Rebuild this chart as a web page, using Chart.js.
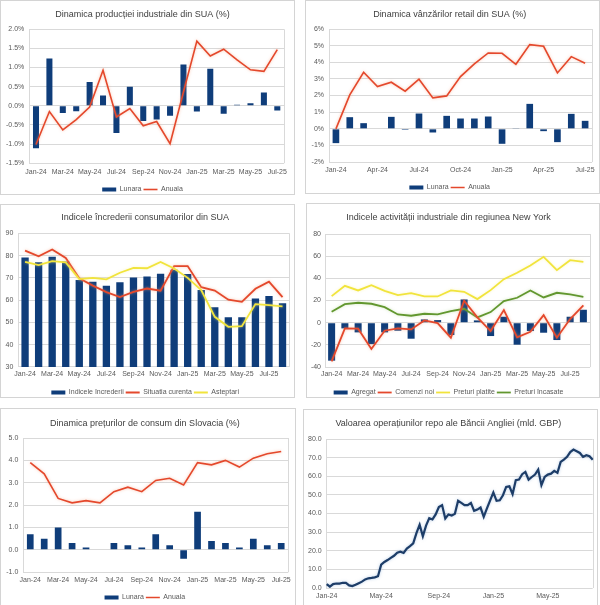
<!DOCTYPE html>
<html>
<head>
<meta charset="utf-8">
<script src="https://cdn.jsdelivr.net/npm/chart.js@4.4.1/dist/chart.umd.min.js"></script>
<style>
  body { margin: 0; background: #fff; width: 600px; height: 605px; overflow: hidden; position: relative; }
  .panel { position: absolute; border: 1px solid #d4d4d4; box-sizing: border-box; overflow: hidden; background: #fff; }
  .panel canvas { display: block; }
</style>
</head>
<body>
<div class="panel" style="left:0;top:0;width:295px;height:195px"><canvas id="c1"></canvas></div>
<div class="panel" style="left:305px;top:0;width:295px;height:194px"><canvas id="c2"></canvas></div>
<div class="panel" style="left:0;top:204px;width:295px;height:194px"><canvas id="c3"></canvas></div>
<div class="panel" style="left:306px;top:203px;width:294px;height:195px"><canvas id="c4"></canvas></div>
<div class="panel" style="left:0;top:408px;width:296px;height:200px"><canvas id="c5"></canvas></div>
<div class="panel" style="left:303px;top:409px;width:295px;height:200px"><canvas id="c6"></canvas></div>
<script>
// --- data ---
const months19 = ['Jan-24','Feb-24','Mar-24','Apr-24','May-24','Jun-24','Jul-24','Aug-24','Sep-24','Oct-24','Nov-24','Dec-24',
                  'Jan-25','Feb-25','Mar-25','Apr-25','May-25','Jun-25','Jul-25'];
const months20 = months19.concat(['Aug-25']);
const ticksEvery2 = ['Jan-24','Mar-24','May-24','Jul-24','Sep-24','Nov-24','Jan-25','Mar-25','May-25','Jul-25'];
const ticksEvery3 = ['Jan-24','Apr-24','Jul-24','Oct-24','Jan-25','Apr-25','Jul-25'];

// industrial production USA (%)
const ipMonthly = [-1.11, 1.24, -0.19, -0.14, 0.62, 0.27, -0.71, 0.50, -0.40, -0.36, -0.26, 1.08, -0.15, 0.97, -0.21, 0.03, 0.07, 0.35, -0.12];
const ipAnnual  = [-1.01, -0.15, -0.63, -0.36, -0.03, 0.93, -0.29, -0.07, -0.52, -0.41, -0.99, 0.36, 1.69, 1.30, 1.48, 1.20, 0.94, 0.90, 1.47];

// retail sales USA (%)
const retailMonthly = [-0.86, 0.70, 0.34, 0.00, 0.72, -0.06, 0.92, -0.22, 0.78, 0.62, 0.62, 0.74, -0.90, 0.02, 1.50, -0.14, -0.80, 0.90, 0.48];
const retailAnnual  = [0.00, 2.04, 3.40, 2.54, 2.80, 2.26, 2.98, 1.86, 1.98, 3.14, 3.90, 4.56, 4.54, 3.88, 5.06, 4.96, 3.36, 4.34, 3.94];

// consumer confidence USA
const confIndex   = [79.1, 77.0, 79.5, 77.3, 69.0, 68.2, 66.4, 68.0, 70.2, 70.6, 71.8, 73.6, 71.7, 64.5, 56.8, 52.3, 52.3, 60.7, 61.8, 58.6];
const confCurrent = [82.2, 79.7, 82.7, 78.9, 69.8, 66.5, 63.6, 61.4, 63.7, 65.2, 64.2, 75.3, 75.3, 65.8, 64.3, 60.2, 59.2, 65.1, 68.3, 61.3];
const confExpect  = [77.2, 75.7, 77.5, 76.9, 69.4, 70.0, 69.3, 72.3, 74.5, 74.3, 77.1, 74.2, 70.0, 64.5, 52.5, 48.0, 48.3, 58.2, 57.7, 57.2];

// Empire State manufacturing survey
const nyAggregate = [-34.2, -5.1, -8.7, -19.2, -8.7, -7.2, -14.4, 3.0, 2.4, -11.1, 21.0, 2.1, -12.0, 5.4, -19.8, -7.5, -9.0, -15.6, 5.4, 11.7];
const nyNewOrders = [-34.8, -5.1, -5.4, -23.7, -7.2, -5.1, -6.0, 2.1, -0.3, -13.5, 19.8, 4.8, -7.5, 11.4, -13.2, -8.1, 6.9, -13.5, 3.3, 15.6];
const nyPricesPaid = [24.0, 33.3, 29.1, 33.9, 28.8, 24.9, 26.7, 23.7, 23.7, 29.1, 27.9, 21.3, 29.4, 39.3, 45.0, 51.6, 59.4, 47.4, 56.4, 54.9];
const nyPricesRecv = [9.9, 16.8, 18.0, 17.1, 14.1, 7.5, 6.3, 8.1, 7.5, 10.5, 12.6, 4.8, 9.6, 19.5, 22.5, 29.1, 22.8, 27.0, 25.5, 23.4];

// CPI Slovakia (%)
const skMonthly = [0.7, 0.5, 1.0, 0.3, 0.1, 0.0, 0.3, 0.2, 0.1, 0.7, 0.2, -0.4, 1.7, 0.4, 0.3, 0.1, 0.5, 0.2, 0.3];
const skAnnual  = [3.9, 3.4, 2.3, 2.1, 2.2, 2.1, 2.6, 2.8, 2.6, 3.1, 3.2, 2.9, 3.9, 3.8, 4.0, 3.7, 4.1, 4.3, 4.4];

// Bank of England repo operations, weekly (bn GBP)
const repoValues = [2.1, 0.7, 2.1, 2.4, 2.4, 2.8, 2.8, 1.4, 1.0, 1.7, 2.6, 3.4, 4.6, 5.2, 5.4, 5.7, 6.3, 12.5, 14.0, 15.0,
                    16.2, 17.3, 19.0, 19.5, 18.8, 21.2, 22.5, 24.0, 29.5, 34.0, 27.8, 33.5, 37.5, 36.8, 39.5, 43.5, 44.5, 37.3, 39.5, 38.9,
                    39.8, 46.8, 45.7, 44.5, 44.5, 45.7, 41.4, 42.1, 43.2, 38.2, 42.7, 47.1, 51.3, 46.8, 47.1, 49.8, 54.3, 54.6, 50.4, 57.9,
                    58.2, 61.1, 62.3, 58.2, 59.6, 60.9, 63.6, 55.2, 59.6, 60.9, 61.4, 62.9, 61.8, 67.7, 68.9, 70.4, 73.0, 74.3, 73.4, 72.5,
                    70.4, 71.3, 70.7, 68.9];
const repoTickIdx  = [0, 17, 35, 52, 69];
const repoTickText = ['Jan-24', 'May-24', 'Sep-24', 'Jan-25', 'May-25'];

// --- style ---
const FONT = "'Liberation Sans', Arial, sans-serif";
const NAVY = '#0f3d7a';
const RED = '#e4482c';
const YELLOW = '#f1e43c';
const GREEN = '#62972f';
const GRID = '#d9d9d9';
const TXT = '#595959';
const LEG_PAD = 2;

Chart.defaults.font.family = FONT;
Chart.defaults.animation = false;

// right edge of the plot area, like the Excel frame
const plotFrame = {
  id: 'plotFrame',
  beforeDatasetsDraw(chart) {
    const { ctx, chartArea: a } = chart;
    const x = Math.round(a.right) + 0.5;
    ctx.save();
    ctx.strokeStyle = GRID;
    ctx.lineWidth = 1;
    ctx.beginPath();
    ctx.moveTo(x, a.top);
    ctx.lineTo(x, a.bottom);
    ctx.stroke();
    ctx.restore();
  }
};

// soft halo round the lines (Excel glow)
const lineGlow = {
  id: 'lineGlow',
  beforeDatasetDraw(chart, args) {
    const ds = chart.data.datasets[args.index];
    if (ds.type !== 'line' && chart.config.type !== 'line') return;
    const ctx = chart.ctx;
    ctx.save();
    ctx.shadowColor = ds.glow || 'rgba(255,255,255,0)';
    ctx.shadowBlur = 3;
  },
  afterDatasetDraw(chart, args) {
    const ds = chart.data.datasets[args.index];
    if (ds.type !== 'line' && chart.config.type !== 'line') return;
    chart.ctx.restore();
  }
};

function barSet(label, data, pct) {
  return { type: 'bar', label, data, backgroundColor: NAVY, borderWidth: 0, pointStyle: 'rect',
           categoryPercentage: 1, barPercentage: pct, order: 10 };
}
function lineSet(label, data, color, order, width, glow) {
  return { type: 'line', label, data, borderColor: color, backgroundColor: color, borderWidth: width || 1.6,
           pointRadius: 0, pointHoverRadius: 0, pointBorderWidth: width || 1.6, pointStyle: 'line',
           tension: 0, order, glow };
}

function makeChart(id, g, title, labels, datasets, yOpt, xCallback, type) {
  const canvas = document.getElementById(id);
  const xh = g.legend ? g.Lc - g.B - LEG_PAD - 3.5 : 20;
  canvas.width = g.W;
  canvas.height = Math.round(g.B + xh + (g.legend ? 7 + LEG_PAD + 10 : 0));
  const tickFont = { size: 7, family: FONT };
  return new Chart(canvas, {
    type: type || 'bar',
    data: { labels, datasets },
    plugins: [plotFrame, lineGlow],
    options: {
      responsive: false,
      layout: { padding: { left: 0, right: g.W - g.R, top: 0, bottom: 0 } },
      plugins: {
        title: { display: true, text: title, color: '#404040', font: { size: 9, family: FONT, weight: 'normal' },
                 padding: { top: g.Tc - 5.4, bottom: g.T - g.Tc - 5.4 } },
        legend: { display: !!g.legend, position: 'bottom',
                  labels: { usePointStyle: true, pointStyleWidth: 14, boxHeight: 4, padding: LEG_PAD,
                            color: TXT, font: tickFont, sort: (a, b) => a.datasetIndex - b.datasetIndex } },
        tooltip: { enabled: false }
      },
      scales: {
        x: {
          grid: { display: false, drawTicks: false },
          border: { display: false },
          ticks: { autoSkip: false, maxRotation: 0, minRotation: 0, padding: g.Xc - g.B - 4.2,
                   color: TXT, font: tickFont, callback: xCallback },
          afterFit: s => { s.height = xh; }
        },
        y: {
          min: yOpt.min, max: yOpt.max,
          grid: { color: GRID, drawTicks: false },
          border: { display: true, color: GRID },
          ticks: { stepSize: yOpt.step, padding: g.yPad || 5, color: TXT, font: tickFont, callback: yOpt.fmt },
          afterFit: s => { s.width = g.L; }
        }
      }
    }
  });
}

function monthTicks(list) {
  return function (value) {
    const lab = this.getLabelForValue(value);
    return list.includes(lab) ? lab : '';
  };
}
const pct1 = v => v.toFixed(1) + '%';
const pct0 = v => v.toFixed(0) + '%';
const num0 = v => v.toFixed(0);
const num1 = v => v.toFixed(1);
const RED_GLOW = 'rgba(245,150,110,0.55)';

makeChart('c1', { W: 293, L: 28.3, R: 283, T: 28.3, B: 161.7, Xc: 171, Lc: 188, Tc: 13.3, legend: true },
  'Dinamica producției industriale din SUA (%)', months19,
  [barSet('Lunara', ipMonthly, 0.45), lineSet('Anuala', ipAnnual, RED, 1, 1.6, RED_GLOW)],
  { min: -1.5, max: 2.0, step: 0.5, fmt: pct1 }, monthTicks(ticksEvery2));

makeChart('c2', { W: 293, L: 23, R: 287.3, T: 28, B: 161.3, Xc: 169.7, Lc: 186.7, Tc: 13.3, legend: true },
  'Dinamica vânzărilor retail din SUA (%)', months19,
  [barSet('Lunara', retailMonthly, 0.48), lineSet('Anuala', retailAnnual, RED, 1, 1.6, RED_GLOW)],
  { min: -2, max: 6, step: 1, fmt: pct0 }, monthTicks(ticksEvery3));

makeChart('c3', { W: 293, L: 17.3, R: 288.3, T: 28.3, B: 161.7, Xc: 169.3, Lc: 187.3, Tc: 12.7, legend: true },
  'Indicele încrederii consumatorilor din SUA', months20,
  [barSet('Indicele încrederii', confIndex, 0.54), lineSet('Situatia curenta', confCurrent, RED, 2, 1.8, RED_GLOW),
   lineSet('Asteptari', confExpect, YELLOW, 1, 1.8, 'rgba(250,240,150,0.6)')],
  { min: 30, max: 90, step: 10, fmt: num0 }, monthTicks(ticksEvery2));

makeChart('c4', { W: 292, L: 18, R: 283, T: 30, B: 163.3, Xc: 170, Lc: 188.7, Tc: 13.7, legend: true, yPad: 4 },
  'Indicele activității industriale din regiunea New York', months20,
  [barSet('Agregat', nyAggregate, 0.53), lineSet('Comenzi noi', nyNewOrders, RED, 1, 1.8, RED_GLOW),
   lineSet('Preturi platite', nyPricesPaid, YELLOW, 2, 1.8, 'rgba(250,240,150,0.6)'),
   lineSet('Preturi încasate', nyPricesRecv, GREEN, 3, 1.8, 'rgba(170,210,130,0.5)')],
  { min: -40, max: 80, step: 20, fmt: num0 }, monthTicks(ticksEvery2));

makeChart('c5', { W: 294, L: 22.3, R: 287.7, T: 29, B: 163, Xc: 171.3, Lc: 188.3, Tc: 15, legend: true },
  'Dinamica prețurilor de consum din Slovacia (%)', months19,
  [barSet('Lunara', skMonthly, 0.48), lineSet('Anuala', skAnnual, RED, 1, 1.6, RED_GLOW)],
  { min: -1, max: 5, step: 1, fmt: num1 }, monthTicks(ticksEvery2));

makeChart('c6', { W: 293, L: 22.7, R: 288.7, T: 29, B: 178.3, Xc: 186.7, Tc: 14, legend: false },
  'Valoarea operațiunilor repo ale Băncii Angliei (mld. GBP)', repoValues.map((v, i) => i),
  [lineSet('Repo', repoValues, '#1d3d68', 1, 2.2, 'rgba(120,160,210,0.5)')],
  { min: 0, max: 80, step: 10, fmt: num1 },
  function (value, index) { const k = repoTickIdx.indexOf(index); return k >= 0 ? repoTickText[k] : ''; },
  'line');
</script>
</body>
</html>
